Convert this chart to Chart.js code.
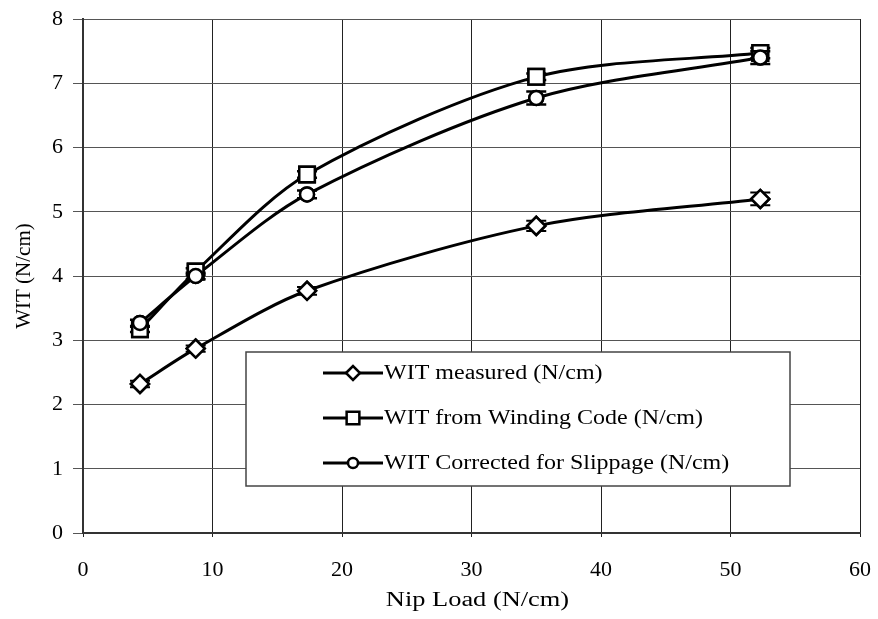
<!DOCTYPE html>
<html>
<head>
<meta charset="utf-8">
<script src="https://cdn.jsdelivr.net/npm/chart.js@4.4.1/dist/chart.umd.min.js"></script>
<style>
  html, body { margin: 0; padding: 0; background: #fff; }
  #wrap { width: 878px; height: 619px; }
</style>
</head>
<body>
<div id="wrap"><canvas id="wit"></canvas></div>
<script>
// nip load (N/cm) for every series
const nipLoad = [4.4, 8.7, 17.3, 35, 52.3];

// wound-in tension, N/cm
const witMeasured = [2.32, 2.87, 3.77, 4.78, 5.2];
const witWindingCode = [3.17, 4.07, 5.58, 7.1, 7.47];
const witCorrected = [3.27, 4.0, 5.27, 6.77, 7.4];

// +/- spread on each point
const errMeasured = [0.05, 0.05, 0.06, 0.08, 0.1];
const errWindingCode = [0.04, 0.05, 0.05, 0.05, 0.08];
const errCorrected = [0.05, 0.05, 0.06, 0.1, 0.1];

const seriesLabels = [
  "WIT measured (N/cm)",
  "WIT from Winding Code (N/cm)",
  "WIT Corrected for Slippage (N/cm)",
];
const xTitle = "Nip Load (N/cm)";
const yTitle = "WIT (N/cm)";

const FONT = "'Liberation Serif', 'Times New Roman', serif";

const toPoints = (ys) => nipLoad.map((x, i) => ({ x: x, y: ys[i] }));

const makeSeries = (label, ys, errs, style, radius) => ({
  label: label,
  data: toPoints(ys),
  errors: errs,
  borderColor: "#000",
  borderWidth: 3,
  pointStyle: style,
  pointRadius: radius,
  pointBorderWidth: 2.5,
  pointBackgroundColor: "#fff",
  pointBorderColor: "#000",
  tension: 0.3,
  fill: false,
});

// text drawn a little wider than tall, like the rest of the lettering
const wideText = (ctx, text, x, y, sx, align) => {
  ctx.save();
  ctx.translate(x, y);
  ctx.scale(sx, 1);
  ctx.textAlign = align;
  ctx.fillText(text, 0, 0);
  ctx.restore();
};

// vertical error bars with caps, markers painted again on top
const errorBars = {
  id: "errorBars",
  afterDatasetsDraw(chart) {
    const ctx = chart.ctx;
    const ys = chart.scales.y;
    ctx.save();
    ctx.strokeStyle = "#000";
    ctx.lineWidth = 2;
    chart.data.datasets.forEach((ds, di) => {
      const meta = chart.getDatasetMeta(di);
      meta.data.forEach((pt, i) => {
        const v = ds.data[i].y;
        const e = ds.errors[i];
        const top = ys.getPixelForValue(v + e);
        const bot = ys.getPixelForValue(v - e);
        ctx.beginPath();
        ctx.moveTo(pt.x, top);
        ctx.lineTo(pt.x, bot);
        ctx.moveTo(pt.x - 10, top);
        ctx.lineTo(pt.x + 10, top);
        ctx.moveTo(pt.x - 10, bot);
        ctx.lineTo(pt.x + 10, bot);
        ctx.stroke();
      });
      meta.data.forEach((pt) => pt.draw(ctx, chart.chartArea));
    });
    ctx.restore();
  },
};

// boxed legend inside the plot plus the x axis title
const boxLegend = {
  id: "boxLegend",
  afterDraw(chart) {
    const ctx = chart.ctx;
    const box = { x: 246, y: 352, w: 544, h: 134 };
    ctx.save();
    ctx.fillStyle = "#fff";
    ctx.fillRect(box.x, box.y, box.w, box.h);
    ctx.strokeStyle = "#444";
    ctx.lineWidth = 1.5;
    ctx.strokeRect(box.x, box.y, box.w, box.h);
    ctx.font = "20px " + FONT;
    ctx.textBaseline = "middle";
    chart.data.datasets.forEach((ds, i) => {
      const cy = 373 + i * 45;
      ctx.strokeStyle = "#000";
      ctx.lineWidth = 3;
      ctx.beginPath();
      ctx.moveTo(323, cy);
      ctx.lineTo(383, cy);
      ctx.stroke();
      ctx.fillStyle = "#fff";
      ctx.lineWidth = 2.5;
      Chart.helpers.drawPoint(ctx, {
        pointStyle: ds.pointStyle,
        radius: ds.pointRadius - 2,
        rotation: 0,
        borderWidth: 2.5,
      }, 353, cy);
      ctx.fillStyle = "#000";
      wideText(ctx, ds.label, 384, cy + 1, 1.2, "left");
    });

    const area = chart.chartArea;
    ctx.font = "20px " + FONT;
    ctx.fillStyle = "#000";
    wideText(ctx, xTitle, (area.left + area.right) / 2 + 6, 601, 1.32, "center");
    ctx.restore();
  },
};

function drawChart() {
  new Chart(document.getElementById("wit"), {
    type: "line",
    data: {
      datasets: [
        makeSeries(seriesLabels[0], witMeasured, errMeasured, "rectRot", 9),
        makeSeries(seriesLabels[1], witWindingCode, errWindingCode, "rect", 11),
        makeSeries(seriesLabels[2], witCorrected, errCorrected, "circle", 7),
      ],
    },
    options: {
      responsive: true,
      maintainAspectRatio: false,
      animation: false,
      layout: { padding: { top: 19, right: 18, left: 8, bottom: 0 } },
      plugins: {
        legend: { display: false },
        tooltip: { enabled: false },
      },
      scales: {
        x: {
          type: "linear",
          min: 0,
          max: 60,
          ticks: {
            stepSize: 10,
            color: "#000",
            font: { family: FONT, size: 22 },
            padding: 20,
          },
          grid: { color: "#222", lineWidth: 1, tickLength: 4 },
          border: { color: "#333", width: 2 },
          title: { display: false, text: xTitle },
          afterFit(scale) {
            scale.height = 86;
            // the end labels may hang past the plot edge
            scale.paddingLeft = 0;
            scale.paddingRight = 0;
          },
        },
        y: {
          min: 0,
          max: 8,
          ticks: {
            stepSize: 1,
            color: "#000",
            font: { family: FONT, size: 22 },
            padding: 10,
          },
          grid: { color: "#555", lineWidth: 1, tickLength: 10 },
          border: { color: "#333", width: 2 },
          title: {
            display: true,
            text: yTitle,
            color: "#000",
            font: { family: FONT, size: 21 },
          },
          afterFit(scale) {
            scale.width = 75;
            scale.paddingTop = 0;
            scale.paddingBottom = 0;
          },
        },
      },
    },
    plugins: [errorBars, boxLegend],
  });
}

// make sure the serif face is ready before anything is measured
Promise.all([
  document.fonts.load("20px 'Liberation Serif'"),
  document.fonts.load("22px 'Liberation Serif'"),
]).then(drawChart, drawChart);
</script>
</body>
</html>
